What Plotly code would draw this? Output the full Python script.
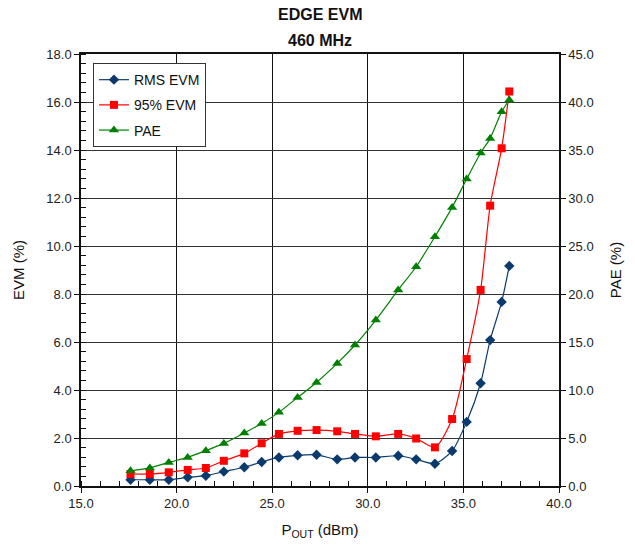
import plotly.graph_objects as go

pout = [17.59, 18.60, 19.59, 20.58, 21.53, 22.47, 23.54, 24.45, 25.35, 26.33, 27.32,
        28.40, 29.33, 30.42, 31.59, 32.53, 33.51, 34.41, 35.17, 35.90, 36.40, 37.00, 37.40]
rms_evm = [0.26, 0.26, 0.26, 0.36, 0.43, 0.60, 0.78, 1.00, 1.19, 1.28, 1.30,
           1.11, 1.19, 1.19, 1.26, 1.11, 0.93, 1.46, 2.67, 4.28, 6.08, 7.67, 9.17]
evm95 = [0.50, 0.50, 0.57, 0.67, 0.75, 1.05, 1.36, 1.78, 2.17, 2.30, 2.33,
         2.28, 2.17, 2.07, 2.17, 1.98, 1.61, 2.79, 5.29, 8.17, 11.68, 14.07, 16.44]
pae = [1.59, 1.88, 2.46, 2.98, 3.68, 4.44, 5.52, 6.52, 7.67, 9.23, 10.79,
       12.77, 14.69, 17.29, 20.42, 22.84, 25.97, 29.02, 31.98, 34.69, 36.21, 38.99, 40.21]
title_lines = ["EDGE EVM", "460 MHz"]

FONT = "Liberation Sans, Arial, sans-serif"

fig = go.Figure()
fig.add_trace(go.Scatter(x=pout, y=rms_evm, name="RMS EVM", mode="lines+markers",
                         legendgroup="a",
                         line=dict(color="#0B3A6E", width=1.2, shape="spline", smoothing=0.7),
                         marker=dict(symbol="diamond", size=8, color="#0B3A6E")))
fig.add_trace(go.Scatter(x=pout, y=evm95, name="95% EVM", mode="lines+markers",
                         legendgroup="b",
                         line=dict(color="#FF0000", width=1.2, shape="spline", smoothing=0.7),
                         marker=dict(symbol="square", size=8, color="#FF0000")))
fig.add_trace(go.Scatter(x=pout, y=pae, name="PAE", mode="lines+markers", yaxis="y2",
                         legendgroup="c",
                         line=dict(color="#008000", width=1.2, shape="spline", smoothing=0.7),
                         marker=dict(symbol="triangle-up", size=9, color="#008000")))

for txt, yp in zip(title_lines, [1.0903, 1.0324]):
    fig.add_annotation(text="<b>%s</b>" % txt, xref="paper", yref="paper", x=0.5, y=yp,
                       xanchor="center", yanchor="middle", showarrow=False,
                       font=dict(family=FONT, size=16, color="#111"))

fig.update_layout(
    width=635, height=547,
    margin=dict(l=81, r=76, t=54, b=61),
    paper_bgcolor="white", plot_bgcolor="white",
    font=dict(family=FONT, size=13, color="#222"),
    showlegend=True,
    legend=dict(x=0.025, y=0.979, xanchor="left", yanchor="top",
                bgcolor="white", bordercolor="#333", borderwidth=1,
                font=dict(family=FONT, size=14, color="#111"),
                tracegroupgap=4, traceorder="grouped"),
    xaxis=dict(range=[15, 40], dtick=5, tick0=15, tickformat=".1f",
               showgrid=True, gridcolor="#111", gridwidth=1,
               showline=True, linecolor="#111", linewidth=1.5, mirror=True,
               ticks="outside", ticklen=5, tickcolor="#111",
               minor=dict(dtick=1, ticks="inside", ticklen=5, tickcolor="#111", showgrid=False),
               zeroline=False,
               title=dict(text="P<sub>OUT</sub> (dBm)", font=dict(size=15, color="#111"), standoff=14),
               tickfont=dict(size=13, color="#222")),
    yaxis=dict(range=[0, 18], dtick=2, tickformat=".1f",
               showgrid=True, gridcolor="#333", gridwidth=1,
               showline=True, linecolor="#111", linewidth=1.5,
               ticks="outside", ticklen=5, tickcolor="#111",
               minor=dict(dtick=0.4, ticks="inside", ticklen=5, tickcolor="#111", showgrid=False),
               zeroline=False,
               title=dict(text="EVM (%)", font=dict(size=15, color="#111"), standoff=18),
               tickfont=dict(size=13, color="#222")),
    yaxis2=dict(range=[0, 45], dtick=5, tickformat=".1f", overlaying="y", side="right",
                showgrid=False, showline=True, linecolor="#111", linewidth=1.5,
                ticks="outside", ticklen=5, tickcolor="#111", zeroline=False,
                title=dict(text="PAE (%)", font=dict(size=15, color="#111"), standoff=18),
                tickfont=dict(size=13, color="#222")),
)

fig.write_html("out.html")
